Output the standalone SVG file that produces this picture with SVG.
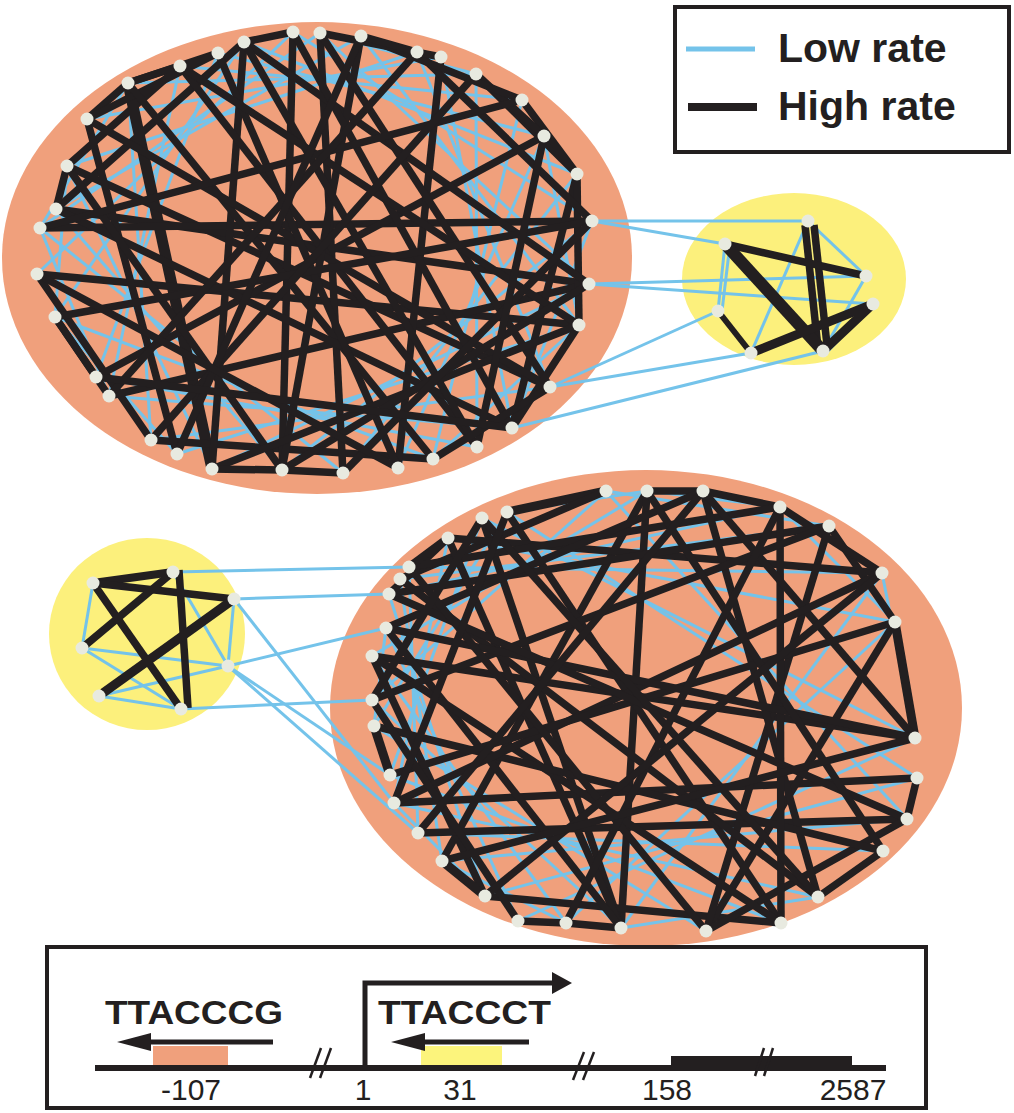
<svg xmlns="http://www.w3.org/2000/svg" width="1014" height="1113" viewBox="0 0 1014 1113">
<style>
.or{fill:#f0a07c}
.ye{fill:#fcf07c}
.lo{stroke:#74c3ea;stroke-width:3;fill:none}
.hi{stroke:#231f20;stroke-width:7.5;fill:none}
.hx{stroke-width:11}
.nd circle{fill:#e8eae0;r:6.5}
.bk{stroke:#231f20;fill:none}
.t{font-family:"Liberation Sans",Arial,sans-serif;fill:#231f20}
</style>
<rect width="1014" height="1113" fill="#ffffff"/>
<g id="clusters">
<ellipse class="or" cx="317" cy="258" rx="315" ry="236"/>
<ellipse class="ye" cx="794" cy="279" rx="112" ry="86"/>
<ellipse class="or" cx="646" cy="708" rx="316" ry="238"/>
<ellipse class="ye" cx="147" cy="634" rx="98" ry="96"/>
</g>
<g id="connectors">
<g id="low-rate">
<line class="lo" x1="293" y1="32" x2="592" y2="221"/>
<line class="lo" x1="320" y1="33" x2="589" y2="284"/>
<line class="lo" x1="361" y1="36" x2="579" y2="325"/>
<line class="lo" x1="417" y1="52" x2="550" y2="387"/>
<line class="lo" x1="441" y1="57" x2="512" y2="428"/>
<line class="lo" x1="476" y1="74" x2="477" y2="447"/>
<line class="lo" x1="522" y1="100" x2="433" y2="459"/>
<line class="lo" x1="544" y1="136" x2="398" y2="468"/>
<line class="lo" x1="577" y1="174" x2="343" y2="473"/>
<line class="lo" x1="592" y1="221" x2="282" y2="470"/>
<line class="lo" x1="589" y1="284" x2="212" y2="469"/>
<line class="lo" x1="579" y1="325" x2="177" y2="454"/>
<line class="lo" x1="550" y1="387" x2="151" y2="440"/>
<line class="lo" x1="512" y1="428" x2="109" y2="396"/>
<line class="lo" x1="477" y1="447" x2="96" y2="377"/>
<line class="lo" x1="433" y1="459" x2="55" y2="317"/>
<line class="lo" x1="398" y1="468" x2="37" y2="274"/>
<line class="lo" x1="343" y1="473" x2="40" y2="228"/>
<line class="lo" x1="282" y1="470" x2="56" y2="209"/>
<line class="lo" x1="212" y1="469" x2="67" y2="166"/>
<line class="lo" x1="177" y1="454" x2="87" y2="119"/>
<line class="lo" x1="151" y1="440" x2="128" y2="83"/>
<line class="lo" x1="109" y1="396" x2="180" y2="66"/>
<line class="lo" x1="96" y1="377" x2="218" y2="53"/>
<line class="lo" x1="55" y1="317" x2="244" y2="42"/>
<line class="lo" x1="37" y1="274" x2="293" y2="32"/>
<line class="lo" x1="40" y1="228" x2="320" y2="33"/>
<line class="lo" x1="56" y1="209" x2="361" y2="36"/>
<line class="lo" x1="67" y1="166" x2="417" y2="52"/>
<line class="lo" x1="87" y1="119" x2="441" y2="57"/>
<line class="lo" x1="128" y1="83" x2="476" y2="74"/>
<line class="lo" x1="180" y1="66" x2="522" y2="100"/>
<line class="lo" x1="218" y1="53" x2="544" y2="136"/>
<line class="lo" x1="244" y1="42" x2="577" y2="174"/>
<line class="lo" x1="55" y1="317" x2="177" y2="454"/>
<line class="lo" x1="40" y1="228" x2="109" y2="396"/>
<line class="lo" x1="67" y1="166" x2="55" y2="317"/>
<line class="lo" x1="128" y1="83" x2="40" y2="228"/>
<line class="lo" x1="544" y1="136" x2="579" y2="325"/>
<line class="lo" x1="592" y1="221" x2="512" y2="428"/>
<line class="lo" x1="579" y1="325" x2="433" y2="459"/>
<line class="lo" x1="320" y1="33" x2="476" y2="74"/>
<line class="lo" x1="592" y1="221" x2="808" y2="221"/>
<line class="lo" x1="592" y1="221" x2="725" y2="244"/>
<line class="lo" x1="589" y1="284" x2="866" y2="276"/>
<line class="lo" x1="589" y1="284" x2="873" y2="304"/>
<line class="lo" x1="550" y1="387" x2="718" y2="311"/>
<line class="lo" x1="550" y1="387" x2="751" y2="353"/>
<line class="lo" x1="512" y1="428" x2="823" y2="351"/>
<line class="lo" x1="808" y1="221" x2="866" y2="276"/>
<line class="lo" x1="808" y1="221" x2="751" y2="353"/>
<line class="lo" x1="725" y1="244" x2="718" y2="311"/>
<line class="lo" x1="730" y1="244" x2="722" y2="311"/>
<line class="lo" x1="866" y1="276" x2="823" y2="351"/>
<line class="lo" x1="873" y1="304" x2="828" y2="351"/>
<line class="lo" x1="606" y1="491" x2="907" y2="819"/>
<line class="lo" x1="647" y1="491" x2="883" y2="851"/>
<line class="lo" x1="703" y1="491" x2="818" y2="897"/>
<line class="lo" x1="780" y1="507" x2="781" y2="923"/>
<line class="lo" x1="829" y1="526" x2="706" y2="931"/>
<line class="lo" x1="882" y1="573" x2="621" y2="928"/>
<line class="lo" x1="895" y1="622" x2="566" y2="923"/>
<line class="lo" x1="915" y1="738" x2="518" y2="921"/>
<line class="lo" x1="917" y1="778" x2="485" y2="896"/>
<line class="lo" x1="907" y1="819" x2="442" y2="861"/>
<line class="lo" x1="883" y1="851" x2="418" y2="833"/>
<line class="lo" x1="818" y1="897" x2="394" y2="803"/>
<line class="lo" x1="781" y1="923" x2="390" y2="775"/>
<line class="lo" x1="706" y1="931" x2="374" y2="726"/>
<line class="lo" x1="621" y1="928" x2="372" y2="700"/>
<line class="lo" x1="566" y1="923" x2="372" y2="656"/>
<line class="lo" x1="518" y1="921" x2="386" y2="628"/>
<line class="lo" x1="485" y1="896" x2="389" y2="594"/>
<line class="lo" x1="442" y1="861" x2="400" y2="579"/>
<line class="lo" x1="418" y1="833" x2="409" y2="567"/>
<line class="lo" x1="394" y1="803" x2="448" y2="538"/>
<line class="lo" x1="390" y1="775" x2="482" y2="518"/>
<line class="lo" x1="374" y1="726" x2="507" y2="512"/>
<line class="lo" x1="372" y1="700" x2="606" y2="491"/>
<line class="lo" x1="372" y1="656" x2="647" y2="491"/>
<line class="lo" x1="386" y1="628" x2="703" y2="491"/>
<line class="lo" x1="389" y1="594" x2="780" y2="507"/>
<line class="lo" x1="400" y1="579" x2="829" y2="526"/>
<line class="lo" x1="409" y1="567" x2="882" y2="573"/>
<line class="lo" x1="448" y1="538" x2="895" y2="622"/>
<line class="lo" x1="482" y1="518" x2="915" y2="738"/>
<line class="lo" x1="507" y1="512" x2="917" y2="778"/>
<line class="lo" x1="507" y1="512" x2="647" y2="491"/>
<line class="lo" x1="606" y1="491" x2="829" y2="526"/>
<line class="lo" x1="647" y1="491" x2="780" y2="507"/>
<line class="lo" x1="780" y1="507" x2="895" y2="622"/>
<line class="lo" x1="882" y1="573" x2="915" y2="738"/>
<line class="lo" x1="818" y1="897" x2="621" y2="928"/>
<line class="lo" x1="442" y1="861" x2="566" y2="923"/>
<line class="lo" x1="394" y1="803" x2="485" y2="896"/>
<line class="lo" x1="386" y1="628" x2="374" y2="726"/>
<line class="lo" x1="448" y1="538" x2="389" y2="594"/>
<line class="lo" x1="93" y1="583" x2="82" y2="648"/>
<line class="lo" x1="82" y1="648" x2="228" y2="666"/>
<line class="lo" x1="82" y1="648" x2="181" y2="709"/>
<line class="lo" x1="99" y1="696" x2="228" y2="666"/>
<line class="lo" x1="173" y1="572" x2="228" y2="666"/>
<line class="lo" x1="234" y1="599" x2="228" y2="666"/>
<line class="lo" x1="99" y1="696" x2="181" y2="709"/>
<line class="lo" x1="173" y1="572" x2="409" y2="567"/>
<line class="lo" x1="234" y1="599" x2="389" y2="594"/>
<line class="lo" x1="228" y1="666" x2="386" y2="628"/>
<line class="lo" x1="181" y1="709" x2="372" y2="700"/>
<line class="lo" x1="228" y1="666" x2="390" y2="775"/>
<line class="lo" x1="234" y1="599" x2="394" y2="803"/>
<line class="lo" x1="228" y1="666" x2="418" y2="833"/>
</g>
<g id="high-rate">
<line class="hi" x1="128" y1="83" x2="180" y2="66"/>
<line class="hi" x1="128" y1="83" x2="218" y2="53"/>
<line class="hi hx" x1="128" y1="83" x2="212" y2="469"/>
<line class="hi" x1="87" y1="119" x2="128" y2="83"/>
<line class="hi" x1="87" y1="119" x2="218" y2="53"/>
<line class="hi" x1="67" y1="166" x2="180" y2="66"/>
<line class="hi" x1="67" y1="166" x2="550" y2="387"/>
<line class="hi" x1="56" y1="209" x2="244" y2="42"/>
<line class="hi" x1="56" y1="209" x2="589" y2="284"/>
<line class="hi" x1="40" y1="228" x2="592" y2="221"/>
<line class="hi" x1="37" y1="274" x2="579" y2="325"/>
<line class="hi" x1="37" y1="274" x2="151" y2="440"/>
<line class="hi" x1="55" y1="317" x2="109" y2="396"/>
<line class="hi" x1="96" y1="377" x2="544" y2="136"/>
<line class="hi" x1="109" y1="396" x2="589" y2="284"/>
<line class="hi" x1="151" y1="440" x2="433" y2="459"/>
<line class="hi" x1="177" y1="454" x2="87" y2="119"/>
<line class="hi" x1="244" y1="42" x2="212" y2="469"/>
<line class="hi" x1="293" y1="32" x2="282" y2="470"/>
<line class="hi" x1="320" y1="33" x2="343" y2="473"/>
<line class="hi" x1="398" y1="468" x2="441" y2="57"/>
<line class="hi" x1="433" y1="459" x2="128" y2="83"/>
<line class="hi" x1="477" y1="447" x2="180" y2="66"/>
<line class="hi" x1="512" y1="428" x2="577" y2="174"/>
<line class="hi" x1="512" y1="428" x2="56" y2="209"/>
<line class="hi" x1="550" y1="387" x2="87" y2="119"/>
<line class="hi" x1="579" y1="325" x2="577" y2="174"/>
<line class="hi" x1="589" y1="284" x2="244" y2="42"/>
<line class="hi" x1="592" y1="221" x2="417" y2="52"/>
<line class="hi" x1="577" y1="174" x2="476" y2="74"/>
<line class="hi" x1="577" y1="174" x2="522" y2="100"/>
<line class="hi" x1="544" y1="136" x2="476" y2="74"/>
<line class="hi" x1="522" y1="100" x2="361" y2="36"/>
<line class="hi" x1="441" y1="57" x2="320" y2="33"/>
<line class="hi" x1="417" y1="52" x2="361" y2="36"/>
<line class="hi" x1="293" y1="32" x2="244" y2="42"/>
<line class="hi" x1="361" y1="36" x2="282" y2="470"/>
<line class="hi" x1="320" y1="33" x2="550" y2="387"/>
<line class="hi" x1="293" y1="32" x2="512" y2="428"/>
<line class="hi" x1="244" y1="42" x2="477" y2="447"/>
<line class="hi" x1="218" y1="53" x2="398" y2="468"/>
<line class="hi" x1="180" y1="66" x2="579" y2="325"/>
<line class="hi" x1="67" y1="166" x2="282" y2="470"/>
<line class="hi" x1="40" y1="228" x2="522" y2="100"/>
<line class="hi" x1="55" y1="317" x2="592" y2="221"/>
<line class="hi" x1="109" y1="396" x2="417" y2="52"/>
<line class="hi" x1="151" y1="440" x2="476" y2="74"/>
<line class="hi" x1="177" y1="454" x2="361" y2="36"/>
<line class="hi" x1="212" y1="469" x2="579" y2="325"/>
<line class="hi" x1="282" y1="470" x2="589" y2="284"/>
<line class="hi" x1="343" y1="473" x2="592" y2="221"/>
<line class="hi" x1="398" y1="468" x2="37" y2="274"/>
<line class="hi" x1="477" y1="447" x2="544" y2="136"/>
<line class="hi" x1="512" y1="428" x2="579" y2="325"/>
<line class="hi" x1="212" y1="469" x2="282" y2="470"/>
<line class="hi" x1="282" y1="470" x2="343" y2="473"/>
<line class="hi" x1="55" y1="317" x2="96" y2="377"/>
<line class="hi" x1="550" y1="387" x2="433" y2="459"/>
<line class="hi" x1="96" y1="377" x2="512" y2="428"/>
<line class="hi" x1="56" y1="209" x2="67" y2="166"/>
<line class="hi" x1="805" y1="225" x2="818" y2="348"/>
<line class="hi" x1="814" y1="225" x2="827" y2="345"/>
<line class="hi" x1="725" y1="244" x2="866" y2="276"/>
<line class="hi" x1="725" y1="244" x2="823" y2="351" style="stroke-width:12"/>
<line class="hi" x1="718" y1="311" x2="751" y2="353" style="stroke-width:6"/>
<line class="hi" x1="751" y1="353" x2="873" y2="304" style="stroke-width:9"/>
<line class="hi" x1="823" y1="351" x2="873" y2="304" style="stroke-width:9"/>
<line class="hi" x1="93" y1="583" x2="173" y2="572" style="stroke-width:8"/>
<line class="hi" x1="93" y1="583" x2="234" y2="599"/>
<line class="hi" x1="93" y1="583" x2="181" y2="709"/>
<line class="hi" x1="173" y1="572" x2="82" y2="648"/>
<line class="hi" x1="179" y1="570" x2="188" y2="708"/>
<line class="hi" x1="234" y1="599" x2="103" y2="693" style="stroke-width:9"/>
<line class="hi" x1="606" y1="491" x2="507" y2="512" style="stroke-width:9"/>
<line class="hi" x1="606" y1="491" x2="400" y2="579"/>
<line class="hi" x1="647" y1="491" x2="703" y2="491"/>
<line class="hi" x1="703" y1="491" x2="780" y2="507"/>
<line class="hi" x1="647" y1="491" x2="442" y2="861"/>
<line class="hi" x1="647" y1="491" x2="621" y2="928"/>
<line class="hi" x1="507" y1="512" x2="781" y2="923"/>
<line class="hi" x1="482" y1="518" x2="621" y2="928"/>
<line class="hi" x1="448" y1="538" x2="882" y2="573"/>
<line class="hi" x1="409" y1="567" x2="780" y2="507"/>
<line class="hi" x1="389" y1="594" x2="829" y2="526"/>
<line class="hi" x1="386" y1="628" x2="703" y2="491"/>
<line class="hi" x1="372" y1="656" x2="915" y2="738"/>
<line class="hi" x1="372" y1="656" x2="485" y2="896"/>
<line class="hi" x1="374" y1="726" x2="390" y2="775" style="stroke-width:9"/>
<line class="hi" x1="394" y1="803" x2="917" y2="778"/>
<line class="hi" x1="418" y1="833" x2="907" y2="819"/>
<line class="hi" x1="442" y1="861" x2="485" y2="896" style="stroke-width:9"/>
<line class="hi" x1="485" y1="896" x2="781" y2="923"/>
<line class="hi" x1="518" y1="921" x2="566" y2="923"/>
<line class="hi" x1="566" y1="923" x2="621" y2="928"/>
<line class="hi" x1="621" y1="928" x2="448" y2="538"/>
<line class="hi" x1="621" y1="928" x2="386" y2="628"/>
<line class="hi" x1="706" y1="931" x2="895" y2="622"/>
<line class="hi" x1="706" y1="931" x2="829" y2="526"/>
<line class="hi" x1="706" y1="931" x2="907" y2="819"/>
<line class="hi" x1="781" y1="923" x2="372" y2="656"/>
<line class="hi" x1="818" y1="897" x2="703" y2="491"/>
<line class="hi" x1="818" y1="897" x2="400" y2="579"/>
<line class="hi" x1="883" y1="851" x2="374" y2="726"/>
<line class="hi" x1="917" y1="778" x2="907" y2="819"/>
<line class="hi" x1="915" y1="738" x2="895" y2="622" style="stroke-width:9"/>
<line class="hi" x1="829" y1="526" x2="895" y2="622"/>
<line class="hi" x1="780" y1="507" x2="781" y2="923"/>
<line class="hi" x1="703" y1="491" x2="915" y2="738"/>
<line class="hi" x1="829" y1="526" x2="372" y2="700"/>
<line class="hi" x1="882" y1="573" x2="394" y2="803"/>
<line class="hi" x1="895" y1="622" x2="390" y2="775"/>
<line class="hi" x1="915" y1="738" x2="386" y2="628"/>
<line class="hi" x1="907" y1="819" x2="389" y2="594"/>
<line class="hi" x1="883" y1="851" x2="647" y2="491"/>
<line class="hi" x1="818" y1="897" x2="482" y2="518"/>
<line class="hi" x1="706" y1="931" x2="409" y2="567"/>
<line class="hi" x1="566" y1="923" x2="780" y2="507"/>
<line class="hi" x1="518" y1="921" x2="372" y2="700"/>
<line class="hi" x1="485" y1="896" x2="882" y2="573"/>
<line class="hi" x1="442" y1="861" x2="915" y2="738"/>
<line class="hi" x1="418" y1="833" x2="703" y2="491"/>
<line class="hi" x1="394" y1="803" x2="507" y2="512"/>
<line class="hi" x1="372" y1="700" x2="482" y2="518"/>
<line class="hi" x1="389" y1="594" x2="448" y2="538"/>
<line class="hi" x1="780" y1="507" x2="882" y2="573"/>
<line class="hi" x1="883" y1="851" x2="818" y2="897"/>
<line class="hi" x1="409" y1="567" x2="448" y2="538" style="stroke-width:8"/>
</g>
</g>
<g id="nodes" class="nd">
<g id="t1"><circle cx="293" cy="32" r="6.5"/></g>
<g id="t2"><circle cx="320" cy="33" r="6.5"/></g>
<g id="t3"><circle cx="361" cy="36" r="6.5"/></g>
<g id="t4"><circle cx="417" cy="52" r="6.5"/></g>
<g id="t5"><circle cx="441" cy="57" r="6.5"/></g>
<g id="t6"><circle cx="476" cy="74" r="6.5"/></g>
<g id="t7"><circle cx="522" cy="100" r="6.5"/></g>
<g id="t8"><circle cx="544" cy="136" r="6.5"/></g>
<g id="t9"><circle cx="577" cy="174" r="6.5"/></g>
<g id="t10"><circle cx="592" cy="221" r="6.5"/></g>
<g id="t11"><circle cx="589" cy="284" r="6.5"/></g>
<g id="t12"><circle cx="579" cy="325" r="6.5"/></g>
<g id="t13"><circle cx="550" cy="387" r="6.5"/></g>
<g id="t14"><circle cx="512" cy="428" r="6.5"/></g>
<g id="t15"><circle cx="477" cy="447" r="6.5"/></g>
<g id="t16"><circle cx="433" cy="459" r="6.5"/></g>
<g id="t17"><circle cx="398" cy="468" r="6.5"/></g>
<g id="t18"><circle cx="343" cy="473" r="6.5"/></g>
<g id="t19"><circle cx="282" cy="470" r="6.5"/></g>
<g id="t20"><circle cx="212" cy="469" r="6.5"/></g>
<g id="t21"><circle cx="177" cy="454" r="6.5"/></g>
<g id="t22"><circle cx="151" cy="440" r="6.5"/></g>
<g id="t23"><circle cx="109" cy="396" r="6.5"/></g>
<g id="t24"><circle cx="96" cy="377" r="6.5"/></g>
<g id="t25"><circle cx="55" cy="317" r="6.5"/></g>
<g id="t26"><circle cx="37" cy="274" r="6.5"/></g>
<g id="t27"><circle cx="40" cy="228" r="6.5"/></g>
<g id="t28"><circle cx="56" cy="209" r="6.5"/></g>
<g id="t29"><circle cx="67" cy="166" r="6.5"/></g>
<g id="t30"><circle cx="87" cy="119" r="6.5"/></g>
<g id="t31"><circle cx="128" cy="83" r="6.5"/></g>
<g id="t32"><circle cx="180" cy="66" r="6.5"/></g>
<g id="t33"><circle cx="218" cy="53" r="6.5"/></g>
<g id="t34"><circle cx="244" cy="42" r="6.5"/></g>
<g id="y1"><circle cx="808" cy="221" r="6.5"/></g>
<g id="y2"><circle cx="725" cy="244" r="6.5"/></g>
<g id="y3"><circle cx="866" cy="276" r="6.5"/></g>
<g id="y4"><circle cx="873" cy="304" r="6.5"/></g>
<g id="y5"><circle cx="718" cy="311" r="6.5"/></g>
<g id="y6"><circle cx="751" cy="353" r="6.5"/></g>
<g id="y7"><circle cx="823" cy="351" r="6.5"/></g>
<g id="w1"><circle cx="93" cy="583" r="6.5"/></g>
<g id="w2"><circle cx="173" cy="572" r="6.5"/></g>
<g id="w3"><circle cx="234" cy="599" r="6.5"/></g>
<g id="w4"><circle cx="82" cy="648" r="6.5"/></g>
<g id="w5"><circle cx="228" cy="666" r="6.5"/></g>
<g id="w6"><circle cx="99" cy="696" r="6.5"/></g>
<g id="w7"><circle cx="181" cy="709" r="6.5"/></g>
<g id="b1"><circle cx="606" cy="491" r="6.5"/></g>
<g id="b2"><circle cx="647" cy="491" r="6.5"/></g>
<g id="b3"><circle cx="703" cy="491" r="6.5"/></g>
<g id="b4"><circle cx="780" cy="507" r="6.5"/></g>
<g id="b5"><circle cx="829" cy="526" r="6.5"/></g>
<g id="b6"><circle cx="882" cy="573" r="6.5"/></g>
<g id="b7"><circle cx="895" cy="622" r="6.5"/></g>
<g id="b9"><circle cx="915" cy="738" r="6.5"/></g>
<g id="b10"><circle cx="917" cy="778" r="6.5"/></g>
<g id="b11"><circle cx="907" cy="819" r="6.5"/></g>
<g id="b12"><circle cx="883" cy="851" r="6.5"/></g>
<g id="b13"><circle cx="818" cy="897" r="6.5"/></g>
<g id="b14"><circle cx="781" cy="923" r="6.5"/></g>
<g id="b15"><circle cx="706" cy="931" r="6.5"/></g>
<g id="b16"><circle cx="621" cy="928" r="6.5"/></g>
<g id="b17"><circle cx="566" cy="923" r="6.5"/></g>
<g id="b18"><circle cx="518" cy="921" r="6.5"/></g>
<g id="b19"><circle cx="485" cy="896" r="6.5"/></g>
<g id="b20"><circle cx="442" cy="861" r="6.5"/></g>
<g id="b21"><circle cx="418" cy="833" r="6.5"/></g>
<g id="b22"><circle cx="394" cy="803" r="6.5"/></g>
<g id="b23"><circle cx="390" cy="775" r="6.5"/></g>
<g id="b24"><circle cx="374" cy="726" r="6.5"/></g>
<g id="b25"><circle cx="372" cy="700" r="6.5"/></g>
<g id="b26"><circle cx="372" cy="656" r="6.5"/></g>
<g id="b27"><circle cx="386" cy="628" r="6.5"/></g>
<g id="b28"><circle cx="389" cy="594" r="6.5"/></g>
<g id="b29"><circle cx="400" cy="579" r="6.5"/></g>
<g id="b30"><circle cx="409" cy="567" r="6.5"/></g>
<g id="b31"><circle cx="448" cy="538" r="6.5"/></g>
<g id="b32"><circle cx="482" cy="518" r="6.5"/></g>
<g id="b33"><circle cx="507" cy="512" r="6.5"/></g>
</g>
<g id="legend">
<rect x="675" y="7" width="334" height="145" fill="#ffffff" stroke="#231f20" stroke-width="4"/>
<line x1="686" y1="49" x2="755" y2="49" stroke="#74c3ea" stroke-width="5"/>
<line x1="688" y1="107" x2="757" y2="107" stroke="#231f20" stroke-width="8"/>
<text class="t" x="778" y="62" font-size="41" font-weight="bold">Low rate</text>
<text class="t" x="778" y="120" font-size="41" font-weight="bold">High rate</text>
</g>
<g id="gene-map">
<rect x="47" y="947" width="879" height="161" fill="#ffffff" stroke="#231f20" stroke-width="4"/>
<rect x="153" y="1046" width="75" height="20" fill="#f0a07c"/>
<rect x="421" y="1046" width="81" height="20" fill="#fcf47c"/>
<line class="bk" x1="95" y1="1068" x2="886" y2="1068" stroke-width="6"/>
<rect x="671" y="1056" width="181" height="12" fill="#231f20"/>
<line class="bk" x1="140" y1="1042" x2="273" y2="1042" stroke-width="5"/>
<polygon points="117,1042 151,1033 151,1051" fill="#231f20"/>
<line class="bk" x1="405" y1="1042" x2="529" y2="1042" stroke-width="5"/>
<polygon points="391,1042 425,1033 425,1051" fill="#231f20"/>
<polyline class="bk" points="365,1068 365,983 556,983" stroke-width="5"/>
<polygon points="572,983 552,972 552,994" fill="#231f20"/>
<g class="bk" stroke-width="2.5">
<line x1="310" y1="1078" x2="321" y2="1048"/>
<line x1="320" y1="1078" x2="331" y2="1048"/>
<line x1="573" y1="1080" x2="584" y2="1052"/>
<line x1="583" y1="1080" x2="594" y2="1052"/>
<line x1="755" y1="1076" x2="764" y2="1048"/>
<line x1="764" y1="1076" x2="773" y2="1048"/>
</g>
<text class="t" x="105" y="1024" font-size="33" font-weight="bold" textLength="178" lengthAdjust="spacingAndGlyphs">TTACCCG</text>
<text class="t" x="378" y="1024" font-size="33" font-weight="bold" textLength="173" lengthAdjust="spacingAndGlyphs">TTACCCT</text>
<g class="t" font-size="30" text-anchor="middle">
<text x="191" y="1100">-107</text>
<text x="363" y="1100">1</text>
<text x="460" y="1100">31</text>
<text x="667" y="1100">158</text>
<text x="853" y="1100">2587</text>
</g>
</g>
</svg>
